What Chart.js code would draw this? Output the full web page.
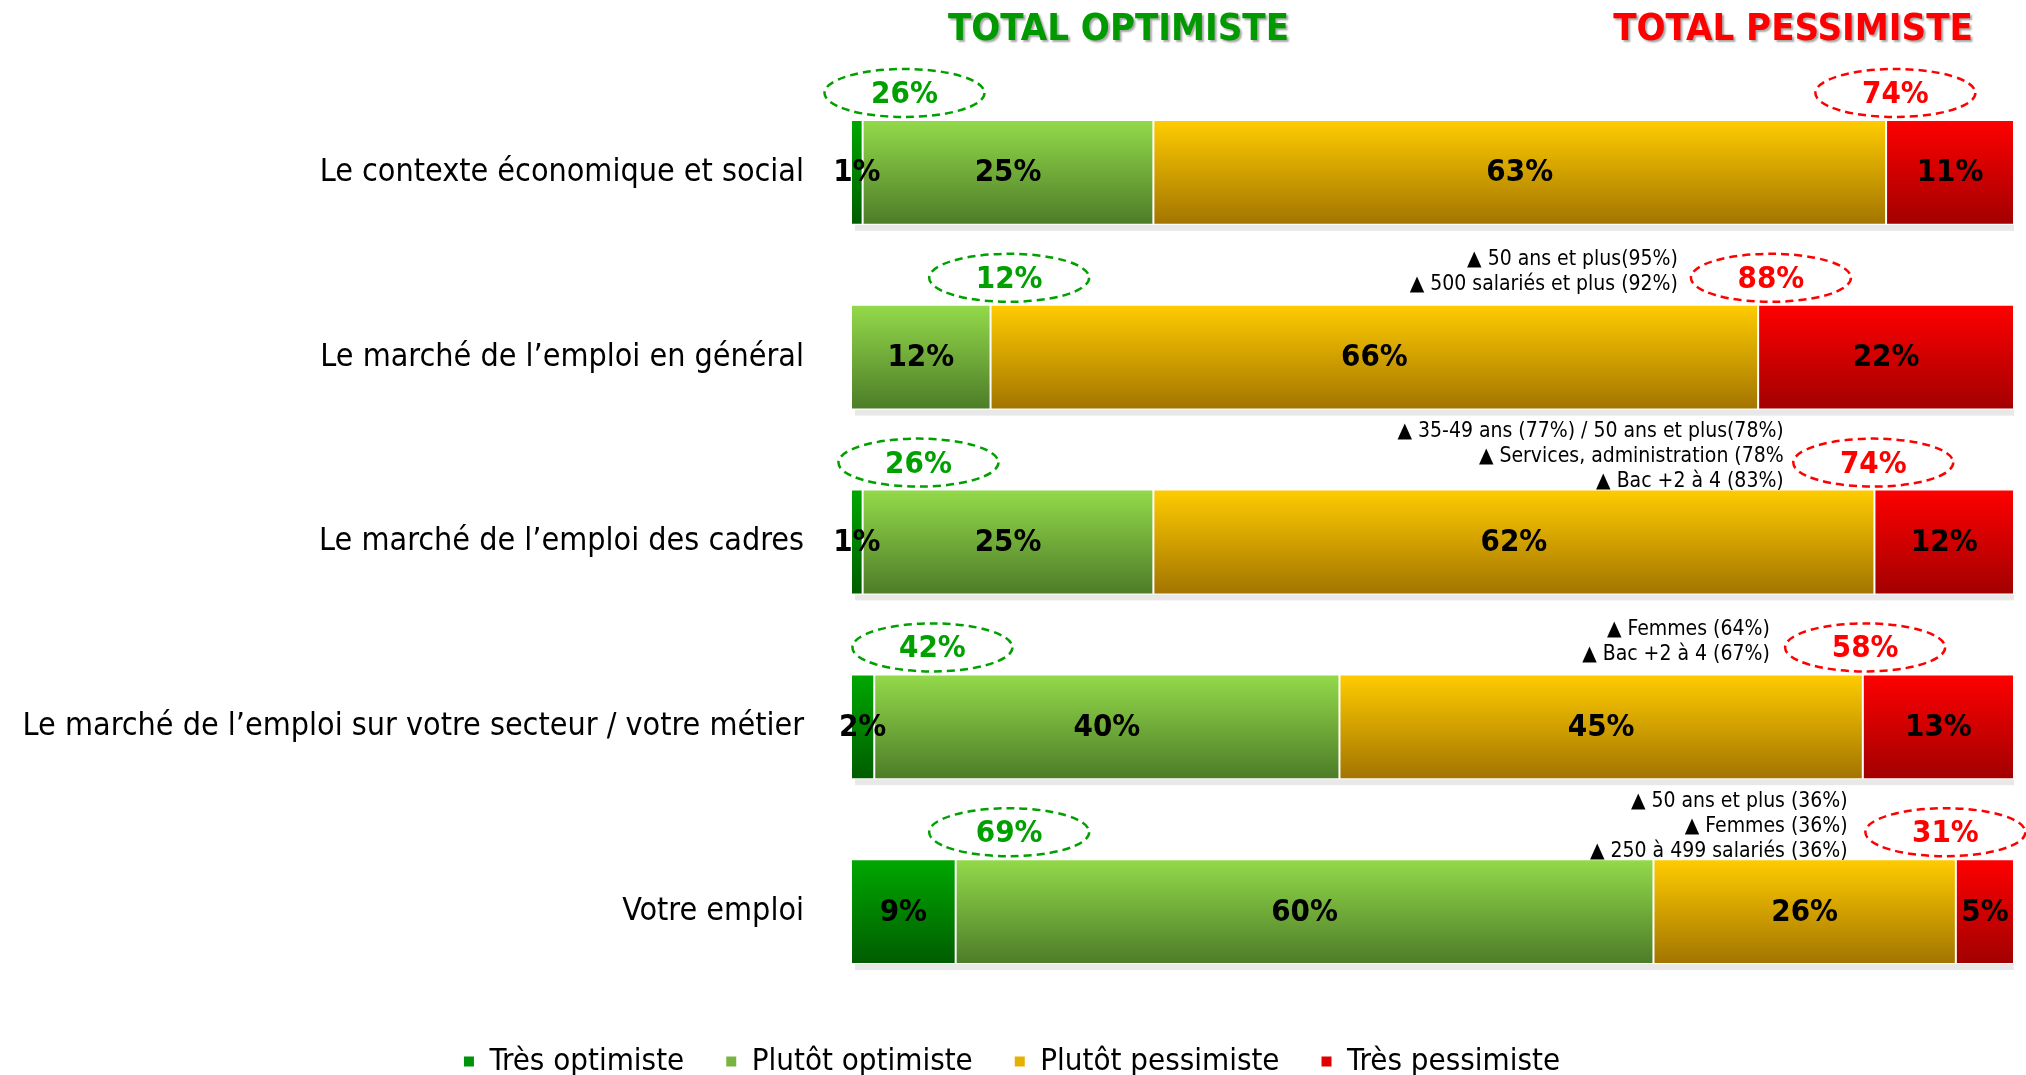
<!DOCTYPE html>
<html>
<head>
<meta charset="utf-8">
<script src="https://cdn.jsdelivr.net/npm/chart.js@4/dist/chart.umd.min.js"></script>
<style>
  html, body { margin: 0; padding: 0; background: #fff; }
  .chart-box { width: 2026px; height: 1075px; position: relative; }
</style>
</head>
<body>
<div class="chart-box"><canvas class="js-chart"></canvas></div>
<script>
// ----- data -----
const categories = [
  'Le contexte économique et social',
  'Le marché de l’emploi en général',
  'Le marché de l’emploi des cadres',
  'Le marché de l’emploi sur votre secteur / votre métier',
  'Votre emploi',
];
const tresOptimiste = [1, 0, 1, 2, 9];
const plutotOptimiste = [25, 12, 25, 40, 60];
const plutotPessimiste = [63, 66, 62, 45, 26];
const tresPessimiste = [11, 22, 12, 13, 5];
const totalOptimiste = [26, 12, 26, 42, 69];
const totalPessimiste = [74, 88, 74, 58, 31];
const notes = [
  [],
  ['▲ 50 ans et plus(95%)', '▲ 500 salariés et plus (92%)'],
  ['▲ 35-49 ans (77%) / 50 ans et plus(78%)', '▲ Services, administration (78%', '▲ Bac +2 à 4 (83%)'],
  ['▲ Femmes (64%)', '▲ Bac +2 à 4 (67%)'],
  ['▲ 50 ans et plus (36%)', '▲ Femmes (36%)', '▲ 250 à 499 salariés (36%)'],
];

// ----- layout (axis units) -----
const optEllipseAt = [4.6, 13.6, 5.8, 7.0, 13.6];
const pessEllipseAt = [89.8, 79.1, 87.9, 87.2, 94.1];
const noteRightAt = [0, 71.1, 80.2, 79.0, 85.7];

const FONT = "'Liberation Sans Narrow', 'DejaVu Sans Condensed', 'Noto Sans', sans-serif";
const BAR_PCT = 0.567;

// vertical gradient for each bar
function gradient(top, bottom) {
  return ctx => {
    const chart = ctx.chart;
    if (!chart.chartArea || ctx.dataIndex === undefined) return top;
    const y = chart.scales.y;
    const band = (y.bottom - y.top) / categories.length;
    const cy = y.getPixelForValue(ctx.dataIndex);
    const h = band * BAR_PCT / 2;
    const g = chart.ctx.createLinearGradient(0, cy - h, 0, cy + h);
    g.addColorStop(0, top);
    g.addColorStop(1, bottom);
    return g;
  };
}

const legendColors = ['#00920a', '#78b440', '#e6b000', '#e00000'];

const barShadow = {
  id: 'barShadow',
  beforeDatasetsDraw(chart) {
    const { ctx, scales: { x } } = chart;
    const meta = chart.getDatasetMeta(0);
    ctx.save();
    ctx.fillStyle = '#e8e8e8';
    meta.data.forEach(bar => {
      const bottom = bar.y + bar.height / 2;
      ctx.fillRect(x.getPixelForValue(0) + 4, bottom, x.getPixelForValue(100) - x.getPixelForValue(0) - 4, 6);
    });
    ctx.restore();
  },
};

const barLabels = {
  id: 'barLabels',
  afterDatasetsDraw(chart) {
    const { ctx } = chart;
    ctx.save();
    ctx.font = 'bold 31px ' + FONT;
    ctx.fillStyle = '#000';
    ctx.textAlign = 'center';
    ctx.textBaseline = 'middle';
    chart.data.datasets.forEach((ds, di) => {
      chart.getDatasetMeta(di).data.forEach((bar, i) => {
        const v = ds.data[i];
        if (!v) return;
        const p = bar.getCenterPoint();
        ctx.fillText(v + '%', p.x, p.y + 1);
      });
    });
    ctx.restore();
  },
};

const totals = {
  id: 'totals',
  afterDraw(chart) {
    const { ctx, scales: { x }, chartArea } = chart;
    const meta = chart.getDatasetMeta(0);
    ctx.save();

    // headers
    ctx.font = 'bold 38px ' + FONT;
    ctx.textAlign = 'center';
    ctx.textBaseline = 'middle';
    ctx.shadowColor = 'rgba(0,0,0,0.35)';
    ctx.shadowOffsetX = 2;
    ctx.shadowOffsetY = 2;
    ctx.shadowBlur = 2;
    ctx.fillStyle = '#009a00';
    ctx.fillText('TOTAL OPTIMISTE', x.getPixelForValue(23), chartArea.top - 50);
    ctx.fillStyle = '#ff0000';
    ctx.fillText('TOTAL PESSIMISTE', x.getPixelForValue(81), chartArea.top - 50);
    ctx.shadowColor = 'transparent';

    meta.data.forEach((bar, i) => {
      const top = bar.y - bar.height / 2;
      const ey = top - 27;
      [[optEllipseAt[i], totalOptimiste[i], '#00a000'], [pessEllipseAt[i], totalPessimiste[i], '#ff0000']].forEach(([at, val, col]) => {
        const cx = x.getPixelForValue(at);
        ctx.beginPath();
        ctx.setLineDash([8, 5]);
        ctx.lineWidth = 2.5;
        ctx.strokeStyle = col;
        ctx.ellipse(cx, ey, 80, 24, 0, 0, Math.PI * 2);
        ctx.stroke();
        ctx.setLineDash([]);
        ctx.font = 'bold 31px ' + FONT;
        ctx.fillStyle = col;
        ctx.fillText(val + '%', cx, ey + 2);
      });

      // significance notes
      const lines = notes[i];
      if (lines.length) {
        ctx.font = '21px ' + FONT;
        ctx.fillStyle = '#000';
        ctx.textAlign = 'right';
        const last = lines.length === 3 ? top - 8 : top - 20;
        lines.forEach((t, k) => {
          ctx.fillText(t, x.getPixelForValue(noteRightAt[i]), last - (lines.length - 1 - k) * 25);
        });
        ctx.textAlign = 'center';
      }
    });
    ctx.restore();
  },
};

const ctx = document.querySelector('.js-chart').getContext('2d');
const chart = new Chart(ctx, {
  type: 'bar',
  data: {
    labels: categories,
    datasets: [
      { label: 'Très optimiste', data: tresOptimiste, backgroundColor: gradient('#00a800', '#005c00') },
      { label: 'Plutôt optimiste', data: plutotOptimiste, backgroundColor: gradient('#94da4a', '#4c7c28') },
      { label: 'Plutôt pessimiste', data: plutotPessimiste, backgroundColor: gradient('#ffcc00', '#a27400') },
      { label: 'Très pessimiste', data: tresPessimiste, backgroundColor: gradient('#ff0000', '#a20000') },
    ],
  },
  options: {
    indexAxis: 'y',
    responsive: true,
    maintainAspectRatio: false,
    animation: false,
    layout: { padding: { left: 10, right: 12, top: 80, bottom: -12 } },
    datasets: {
      bar: {
        categoryPercentage: 1,
        barPercentage: BAR_PCT,
        borderColor: 'rgba(255,255,255,0.75)',
        borderWidth: 1,
        borderSkipped: false,
      },
    },
    scales: {
      x: {
        stacked: true,
        min: 0,
        max: 100,
        display: false,
      },
      y: {
        stacked: true,
        grid: { display: false, drawTicks: false },
        border: { display: false },
        ticks: {
          padding: 47,
          color: '#000',
          font: { family: FONT, size: 32 },
        },
        afterFit(scale) {
          scale.width = 841;
        },
      },
    },
    plugins: {
      tooltip: { enabled: false },
      legend: {
        position: 'bottom',
        labels: {
          color: '#000',
          font: { family: FONT, size: 31 },
          usePointStyle: true,
          pointStyle: 'rect',
          boxWidth: 10,
          boxHeight: 10,
          padding: 42,
          generateLabels(chart) {
            return chart.data.datasets.map((ds, i) => ({
              text: ds.label,
              fillStyle: legendColors[i],
              strokeStyle: legendColors[i],
              lineWidth: 0,
              pointStyle: 'rect',
              datasetIndex: i,
            }));
          },
        },
      },
    },
  },
  plugins: [barShadow, barLabels, totals],
});
</script>
</body>
</html>
